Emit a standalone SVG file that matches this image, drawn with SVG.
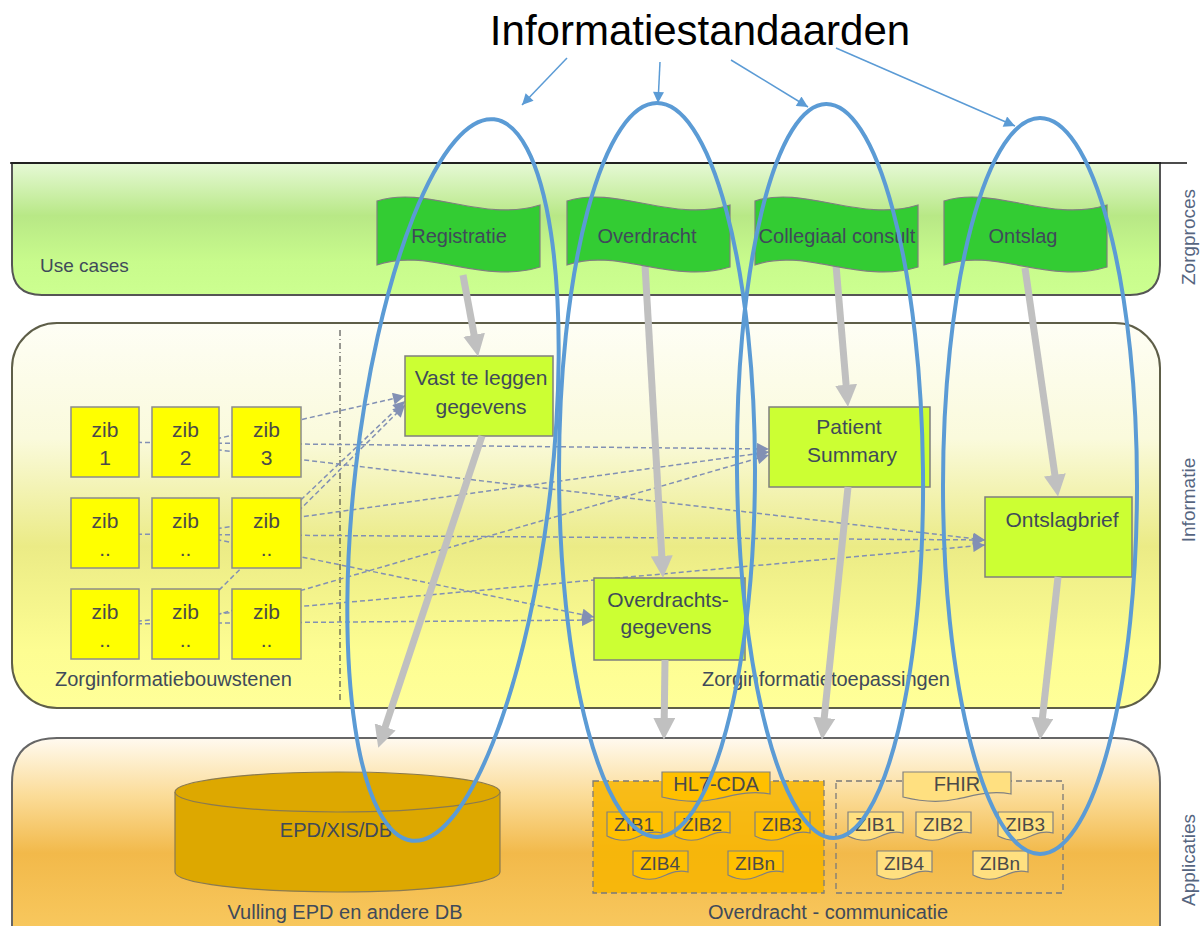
<svg xmlns="http://www.w3.org/2000/svg" xmlns:xlink="http://www.w3.org/1999/xlink" width="1200" height="926" viewBox="0 0 1200 926">
<style>
text{font-family:"Liberation Sans",Arial,sans-serif;fill:#3f4a5a}
.t20{font-size:20px}
.mid{text-anchor:middle}
.zib{fill:#ffff00;stroke:#8c8c8c;stroke-width:1.5}
.zt{font-size:21px;fill:#4a4a4a;text-anchor:middle}
.app{fill:#ccff33;stroke:#7f7f7f;stroke-width:1.5}
.flag{fill:#33cc33;stroke:#7f7f7f;stroke-width:1.2}
.dash{fill:none;stroke:#8290b4;stroke-width:1.5;stroke-dasharray:5 3;marker-end:url(#da)}
.gray{fill:none;stroke:#c0c0c0;stroke-width:7;marker-end:url(#ga)}
.ell{fill:none;stroke:#5b9bd5;stroke-width:4}
.tarr{fill:none;stroke:#5b9bd5;stroke-width:1.5;marker-end:url(#ba)}
.side{font-size:19px;fill:#56657f;text-anchor:middle}
.tagD{fill:#ffc000;stroke:#808080;stroke-width:1.2}
.tagL{fill:#ffe080;stroke:#808080;stroke-width:1.2}
.zz{font-size:19px;fill:#4a4a4a;text-anchor:middle}
</style>
<defs>
<linearGradient id="gZ" x1="0" y1="0" x2="0" y2="1">
<stop offset="0" stop-color="#e6f9d6"/><stop offset="0.4" stop-color="#b8e886"/><stop offset="0.75" stop-color="#c8fb8c"/><stop offset="1" stop-color="#ccff90"/>
</linearGradient>
<linearGradient id="gI" x1="0" y1="0" x2="0" y2="1">
<stop offset="0" stop-color="#fefef5"/><stop offset="0.3" stop-color="#fafadc"/><stop offset="0.58" stop-color="#ebeb86"/><stop offset="0.85" stop-color="#fdfd92"/><stop offset="1" stop-color="#ffff99"/>
</linearGradient>
<linearGradient id="gA" x1="0" y1="0" x2="0" y2="1">
<stop offset="0" stop-color="#fffaf0"/><stop offset="0.3" stop-color="#fbdc98"/><stop offset="0.6" stop-color="#f2b94a"/><stop offset="1" stop-color="#f8c85e"/>
</linearGradient>
<marker id="da" viewBox="0 0 10 10" refX="10" refY="5" markerUnits="userSpaceOnUse" markerWidth="13" markerHeight="12" orient="auto"><path d="M0,0 L10,5 L0,10 z" fill="#8290b4"/></marker>
<marker id="ga" viewBox="0 0 10 10" refX="1" refY="5" markerUnits="userSpaceOnUse" markerWidth="22" markerHeight="22" orient="auto"><path d="M0,0 L10,5 L0,10 z" fill="#c0c0c0"/></marker>
<marker id="ba" viewBox="0 0 10 10" refX="10" refY="5" markerUnits="userSpaceOnUse" markerWidth="13" markerHeight="11" orient="auto"><path d="M0,0 L10,5 L0,10 z" fill="#5b9bd5"/></marker>
<path id="flagP" d="M0,6 C50,-10 105,28 163,10 L163,72 C105,90 50,52 0,70 Z"/>
<path id="docS" d="M0,0 H55 V21 C44,18 36,23 28,26 C18,30 8,28 0,24 Z"/>
<path id="docL" d="M0,0 H108 V22 C86,18 70,24 54,27 C36,31 16,29 0,25 Z"/>
</defs>

<rect width="1200" height="926" fill="#ffffff"/>

<g id="band-zorgproces">
<path d="M12,163 H1160 V265 Q1160,295 1130,295 H42 Q12,295 12,265 Z" fill="url(#gZ)" stroke="#555" stroke-width="2"/>
<line x1="10" y1="163" x2="1187" y2="163" stroke="#111" stroke-width="1.5"/>
<text class="t20" x="40" y="272" style="font-size:19px">Use cases</text>
<text class="side" transform="translate(1195,237) rotate(-90)">Zorgproces</text>
</g>

<g id="band-informatie">
<rect x="12" y="323" width="1148" height="385" rx="45" fill="url(#gI)" stroke="#5e5e48" stroke-width="2"/>
<line x1="340" y1="330" x2="340" y2="700" stroke="#333" stroke-width="1" stroke-dasharray="6 3 1 3"/>
<text class="t20" x="55" y="686">Zorginformatiebouwstenen</text>
<text class="t20" x="702" y="686">Zorginformatietoepassingen</text>
<text class="side" transform="translate(1195,500) rotate(-90)">Informatie</text>
</g>

<g id="band-applicaties">
<path d="M12,930 V783 Q12,738 57,738 H1115 Q1160,738 1160,783 V930 Z" fill="url(#gA)" stroke="#666" stroke-width="2"/>
<text class="t20 mid" x="345" y="919">Vulling EPD en andere DB</text>
<text class="t20 mid" x="828" y="919">Overdracht - communicatie</text>
<text class="side" transform="translate(1195,860) rotate(-90)">Applicaties</text>
</g>

<g id="connectors">
<line class="dash" x1="105" y1="442" x2="769" y2="449"/>
<line class="dash" x1="185" y1="446" x2="985" y2="540"/>
<line class="dash" x1="185" y1="446" x2="405" y2="396"/>
<line class="dash" x1="105" y1="534" x2="985" y2="540"/>
<line class="dash" x1="185" y1="533" x2="769" y2="452"/>
<line class="dash" x1="185" y1="533" x2="594" y2="617"/>
<line class="dash" x1="266" y1="533" x2="405" y2="401"/>
<line class="dash" x1="105" y1="624" x2="985" y2="545"/>
<line class="dash" x1="105" y1="624" x2="594" y2="620"/>
<line class="dash" x1="185" y1="624" x2="769" y2="455"/>
<line class="dash" x1="185" y1="624" x2="405" y2="405"/>
</g>

<g id="zibs">
<g id="zib1"><rect class="zib" x="71" y="407" width="68" height="70"/><text class="zt" x="105" y="437">zib</text><text class="zt" x="105" y="465">1</text></g>
<g id="zib2"><rect class="zib" x="152" y="407" width="67" height="70"/><text class="zt" x="185.5" y="437">zib</text><text class="zt" x="185.5" y="465">2</text></g>
<g id="zib3"><rect class="zib" x="232" y="407" width="69" height="70"/><text class="zt" x="266.5" y="437">zib</text><text class="zt" x="266.5" y="465">3</text></g>
<g id="zib4"><rect class="zib" x="71" y="498" width="68" height="70"/><text class="zt" x="105" y="528">zib</text><text class="zt" x="105" y="556">..</text></g>
<g id="zib5"><rect class="zib" x="152" y="498" width="67" height="70"/><text class="zt" x="185.5" y="528">zib</text><text class="zt" x="185.5" y="556">..</text></g>
<g id="zib6"><rect class="zib" x="232" y="498" width="69" height="70"/><text class="zt" x="266.5" y="528">zib</text><text class="zt" x="266.5" y="556">..</text></g>
<g id="zib7"><rect class="zib" x="71" y="589" width="68" height="70"/><text class="zt" x="105" y="619">zib</text><text class="zt" x="105" y="647">..</text></g>
<g id="zib8"><rect class="zib" x="152" y="589" width="67" height="70"/><text class="zt" x="185.5" y="619">zib</text><text class="zt" x="185.5" y="647">..</text></g>
<g id="zib9"><rect class="zib" x="232" y="589" width="69" height="70"/><text class="zt" x="266.5" y="619">zib</text><text class="zt" x="266.5" y="647">..</text></g>
</g>

<g id="vast"><rect class="app" x="405" y="356" width="148" height="80"/><text class="t20 mid" x="481" y="385" style="font-size:21px">Vast te leggen</text><text class="t20 mid" x="481" y="414" style="font-size:21px">gegevens</text></g>
<g id="patient"><rect class="app" x="769" y="407" width="161" height="80"/><text class="t20 mid" x="849" y="434" style="font-size:21px">Patient</text><text class="t20 mid" x="852" y="462" style="font-size:21px">Summary</text></g>
<g id="ontslagbrief"><rect class="app" x="985" y="497" width="147" height="80"/><text class="t20 mid" x="1062" y="527" style="font-size:21px">Ontslagbrief</text></g>
<g id="overdrachtsgegevens"><rect class="app" x="594" y="578" width="151" height="82"/><text class="t20 mid" x="668" y="607" style="font-size:21px">Overdrachts-</text><text class="t20 mid" x="666" y="634" style="font-size:21px">gegevens</text></g>

<g id="db">
<path d="M175,792 V872 A162.5,20 0 0 0 500,872 V792" fill="#dda800" stroke="#8a7a50" stroke-width="1.2"/>
<ellipse cx="337.5" cy="792" rx="162.5" ry="20" fill="#dda800" stroke="#8a7a50" stroke-width="1.2"/>
<text class="t20 mid" x="336" y="837">EPD/XIS/DB</text>
</g>

<g id="hl7">
<rect x="593" y="781" width="231" height="112" fill="#f7b500" fill-opacity="0.85" stroke="#7a7a7a" stroke-width="1.3" stroke-dasharray="6 4"/>
<use xlink:href="#docL" x="662" y="772" class="tagD"/><text class="t20 mid" x="716" y="791" style="fill:#4a4a4a">HL7-CDA</text>
<use xlink:href="#docS" x="607" y="812" class="tagD"/><text class="zz" x="634" y="831">ZIB1</text>
<use xlink:href="#docS" x="675" y="812" class="tagD"/><text class="zz" x="702" y="831">ZIB2</text>
<use xlink:href="#docS" x="755" y="812" class="tagD"/><text class="zz" x="782" y="831">ZIB3</text>
<use xlink:href="#docS" x="633" y="851" class="tagD"/><text class="zz" x="660" y="870">ZIB4</text>
<use xlink:href="#docS" x="728" y="851" class="tagD"/><text class="zz" x="755" y="870">ZIBn</text>
</g>

<g id="fhir">
<rect x="836" y="781" width="227" height="112" fill="none" stroke="#7a7a7a" stroke-width="1.3" stroke-dasharray="6 4"/>
<use xlink:href="#docL" x="903" y="772" class="tagL"/><text class="t20 mid" x="957" y="791" style="fill:#4a4a4a">FHIR</text>
<use xlink:href="#docS" x="848" y="812" class="tagL"/><text class="zz" x="875" y="831">ZIB1</text>
<use xlink:href="#docS" x="916" y="812" class="tagL"/><text class="zz" x="943" y="831">ZIB2</text>
<use xlink:href="#docS" x="998" y="812" class="tagL"/><text class="zz" x="1025" y="831">ZIB3</text>
<use xlink:href="#docS" x="877" y="851" class="tagL"/><text class="zz" x="904" y="870">ZIB4</text>
<use xlink:href="#docS" x="973" y="851" class="tagL"/><text class="zz" x="1000" y="870">ZIBn</text>
</g>

<g id="gray-arrows">
<line class="gray" x1="463" y1="275" x2="474.5" y2="337"/>
<line class="gray" x1="482" y1="436" x2="384.5" y2="729"/>
<line class="gray" x1="645" y1="265" x2="661.9" y2="558"/>
<line class="gray" x1="665" y1="660" x2="664.2" y2="720"/>
<line class="gray" x1="836" y1="265" x2="846.3" y2="387"/>
<line class="gray" x1="848" y1="487" x2="824" y2="720"/>
<line class="gray" x1="1025" y1="268" x2="1055.2" y2="477"/>
<line class="gray" x1="1058" y1="577" x2="1042.2" y2="720"/>
</g>

<g id="flags">
<g id="flag-registratie"><use xlink:href="#flagP" x="377" y="195" class="flag"/><text class="t20 mid" x="459" y="243">Registratie</text></g>
<g id="flag-overdracht"><use xlink:href="#flagP" x="567" y="195" class="flag"/><text class="t20 mid" x="647" y="243">Overdracht</text></g>
<g id="flag-collegiaal"><use xlink:href="#flagP" x="755" y="195" class="flag"/><text class="t20 mid" x="837" y="243">Collegiaal consult</text></g>
<g id="flag-ontslag"><use xlink:href="#flagP" x="944" y="195" class="flag"/><text class="t20 mid" x="1023" y="243">Ontslag</text></g>
</g>

<g id="standards">
<ellipse class="ell" cx="453" cy="480" rx="98" ry="363" transform="rotate(6.5 453 480)"/>
<ellipse class="ell" cx="657" cy="470" rx="98" ry="367"/>
<ellipse class="ell" cx="830" cy="471" rx="93" ry="367" transform="rotate(-0.6 830 471)"/>
<ellipse class="ell" cx="1040" cy="486" rx="97" ry="368"/>
</g>

<g id="title">
<text x="700" y="45" style="font-size:42px;fill:#000;text-anchor:middle">Informatiestandaarden</text>
<line class="tarr" x1="567" y1="58" x2="522" y2="105"/>
<line class="tarr" x1="660" y1="62" x2="658" y2="103"/>
<line class="tarr" x1="731" y1="60" x2="808" y2="107"/>
<line class="tarr" x1="836" y1="48" x2="1015" y2="126"/>
</g>
</svg>
